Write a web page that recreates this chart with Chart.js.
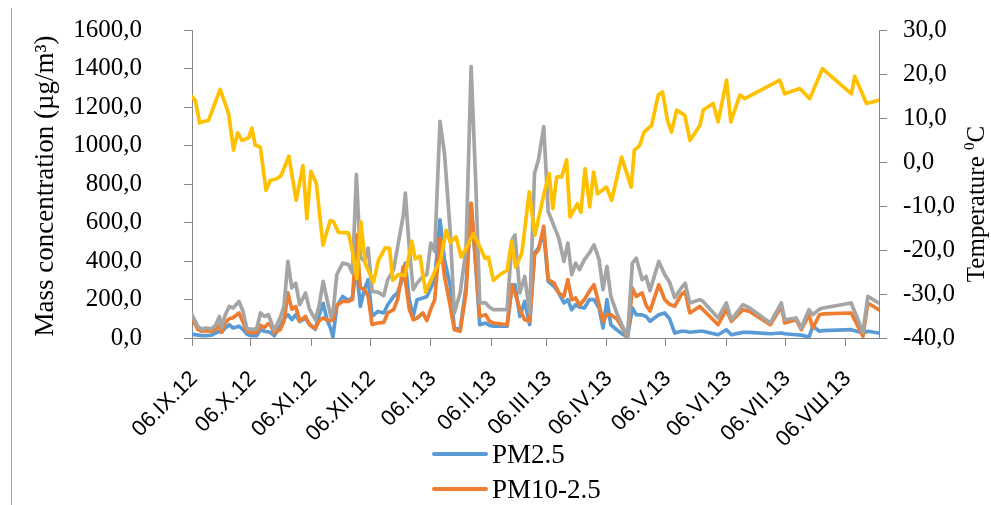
<!DOCTYPE html>
<html>
<head>
<meta charset="utf-8">
<script src="https://cdn.jsdelivr.net/npm/chart.js@4.4.1/dist/chart.umd.min.js"></script>
<style>
  html, body { margin: 0; padding: 0; background: #fff; }
  #wrap { position: relative; width: 991px; height: 505px; overflow: hidden; }
  #frame { position: absolute; left: 11px; top: 8px; width: 0; height: 497px; border-left: 1px solid #a6a6a6; }
  canvas { position: absolute; left: 0; top: 0; }
</style>
</head>
<body>
<div id="wrap">
  <div id="frame"></div>
  <canvas id="chart" width="991" height="505"></canvas>
</div>
<script>
// Days counted from 06.IX.2012
const tickDays = [0, 30, 61, 91, 122, 153, 181, 212, 242, 273, 303, 334];
const tickLabels = ['06.IX.12', '06.X.12', '06.XI.12', '06.XII.12', '06.I.13', '06.II.13',
  '06.III.13', '06.IV.13', '06.V.13', '06.VI.13', '06.VII.13', '06.VШ.13'];

// Particulate matter sampling days and mass concentrations, µg/m³
const pmDays = [0, 3, 5, 7, 10, 12, 14, 15, 17, 19, 21, 24, 26, 28, 30, 33, 35, 37, 39, 40,
  42, 45, 47, 49, 51, 53, 55, 58, 60, 63, 65, 67, 69, 71, 72, 74, 77, 80, 82, 84,
  86, 88, 90, 92, 95, 98, 100, 103, 105, 108, 109, 111, 113, 115, 118, 120, 122, 124, 126.7, 129,
  132, 134, 137, 140, 142.6, 145, 147, 150, 152, 154, 161, 163.5, 165, 167.5, 170, 172.5, 175, 177, 179.7, 182,
  185, 187.4, 190, 192, 194, 196, 198, 200.5, 203, 205.4, 208, 210, 212, 214, 217, 220, 222.5, 225, 227, 230,
  232, 234, 238.5, 241.5, 244, 246.6, 250, 252, 254.3, 259.4, 261.1, 268.8, 273, 275.6, 281.5, 284.9, 295.5, 301.1, 302.8, 308.7,
  311.3, 315.2, 317.2, 320.6, 322.4, 336.8, 342.8, 345.3, 350.9];

const pm25 = [20, 15, 12, 12, 15, 25, 35, 30, 52, 69, 52, 61, 45, 20, 12, 12, 43, 35, 32, 29,
  12, 60, 100, 121, 95, 121, 85, 104, 70, 45, 120, 180, 95, 45, 5, 164, 216, 195, 210, 372,
  164, 250, 303, 112, 138, 130, 173, 216, 234, 320, 389, 199, 112, 199, 208, 216, 260, 303, 614, 407,
  268, 52, 43, 268, 700, 372, 69, 78, 65, 61, 61, 268, 277, 112, 190, 69, 441, 467, 545, 294,
  268, 234, 182, 199, 147, 173, 160, 156, 199, 199, 156, 52, 199, 69, 43, 20, 5, 156, 121, 120,
  112, 87, 121, 130, 100, 26, 35, 35, 30, 35, 35, 17, 43, 17, 29, 29, 22, 26, 22, 17,
  15, 5, 61, 35, 38, 43, 26, 35, 26];

const pm10_25 = [104, 45, 35, 38, 35, 45, 65, 30, 80, 100, 105, 130, 85, 35, 28, 28, 65, 55, 75, 70,
  26, 43, 87, 234, 150, 164, 90, 112, 70, 50, 90, 104, 95, 90, 95, 170, 190, 190, 200, 536,
  260, 255, 216, 70, 78, 81, 130, 147, 199, 372, 300, 150, 95, 104, 130, 90, 150, 199, 519, 320,
  164, 43, 35, 234, 700, 389, 112, 121, 87, 78, 69, 277, 234, 150, 95, 87, 432, 458, 580, 303,
  285, 234, 216, 303, 199, 208, 170, 200, 242, 277, 173, 87, 121, 121, 100, 50, 5, 260, 216, 234,
  170, 140, 277, 200, 175, 165, 225, 242, 130, 164, 147, 69, 147, 87, 147, 138, 69, 164, 78, 95,
  43, 121, 52, 121, 125, 130, 9, 182, 147];

const pm10 = [121, 60, 45, 52, 48, 65, 112, 55, 120, 164, 156, 190, 140, 50, 45, 47, 130, 112, 121, 95,
  40, 104, 164, 398, 260, 285, 173, 234, 150, 95, 170, 294, 199, 110, 130, 330, 389, 381, 337, 850,
  420, 400, 467, 242, 238, 220, 303, 355, 470, 640, 753, 470, 251, 285, 320, 330, 493, 450, 1125, 960,
  545, 130, 234, 458, 1410, 800, 182, 182, 160, 147, 147, 510, 536, 234, 320, 130, 856, 925, 1098, 657,
  580, 519, 398, 493, 329, 389, 355, 407, 441, 484, 407, 251, 372, 216, 130, 60, 9, 389, 415, 303,
  320, 245, 398, 330, 290, 210, 260, 285, 182, 199, 190, 104, 182, 95, 173, 156, 78, 182, 95, 104,
  52, 147, 121, 150, 156, 182, 30, 216, 182];

// Air temperature, °C
const tempDays = [0, 1.7, 3.9, 8.5, 11, 14.4, 18.7, 21.2, 23.3, 25.5, 28.9, 30.6, 32.3, 34.9, 37.8, 40, 43.4, 45.6, 49.5, 53.2,
  56.7, 58.7, 60.7, 63.5, 66.9, 70.6, 72.3, 74.8, 79.9, 82.2, 84.2, 86.3, 88.5, 92.7, 95.3, 98.7, 100.9, 102.6, 105.3, 108.9,
  112.3, 114, 116.5, 119.4, 122.2, 125, 127.1, 129.8, 131.9, 134.9, 137.5, 140, 143.7, 146.7, 149.7, 151.4, 154, 157.4, 161, 163.3,
  165.3, 168.5, 172.3, 175.2, 179.5, 182.4, 184.4, 186.3, 188.9, 191.4, 193.1, 196.9, 198.7, 200.8, 203.2, 205.2, 207.2, 211.8, 214.4, 219.5,
  224.4, 226, 228.8, 230.9, 234.8, 238.2, 240.4, 242.9, 245, 247.6, 251.8, 254.4, 259.5, 261.2, 266.3, 268.8, 273.1, 275.3, 279.9, 282.4,
  300.3, 302.8, 310.5, 315.6, 322.1, 336.9, 338.6, 344.6, 350.9];

const temperature = [14.8, 14.0, 8.9, 9.5, 12.5, 16.5, 11.0, 2.7, 6.6, 4.9, 5.5, 7.7, 3.8, 3.4, -6.4, -4.2, -3.8, -3.0, 1.3, -8.7,
  -0.8, -12.9, -2.1, -4.8, -18.9, -13.3, -13.6, -16.0, -16.1, -20.8, -26.5, -13.6, -23.1, -27.3, -22.3, -19.5, -19.6, -26.9, -25.6, -25.8,
  -18.0, -22.0, -21.4, -29.6, -26.7, -23.9, -22.3, -15.5, -18.3, -17.0, -21.6, -19.7, -16.3, -18.9, -21.9, -21.6, -26.9, -25.6, -24.6, -18.0,
  -23.9, -20.8, -6.8, -16.6, -7.9, -2.6, -10.6, -3.4, -3.4, 0.5, -12.5, -9.5, -11.4, -1.5, -10.2, -2.3, -7.2, -5.7, -8.7, 1.1,
  -5.7, 2.7, 3.8, 6.8, 8.3, 15.2, 15.9, 9.5, 6.8, 11.8, 10.6, 4.9, 8.3, 11.8, 13.3, 9.1, 18.6, 9.1, 15.2, 14.4,
  18.6, 15.5, 16.7, 14.4, 21.2, 15.5, 19.5, 13.3, 14.0];

const massTitle = 'Mass concentration (µg/m³)';
const tempTitleMain = 'Temperature ';
const tempTitleSup = '0';
const tempTitleUnit = 'C';
const legendShown = ['PM2.5', 'PM10-2.5'];

const toPoints = (xs, ys) => xs.map((x, i) => ({ x: x, y: ys[i] }));
const comma = v => Number(v).toFixed(1).replace('.', ',');

const axisGrey = '#868686';
const serif = 'Liberation Serif';

const lineStyle = { borderWidth: 3.7, pointRadius: 0, tension: 0, borderJoinStyle: 'round', borderCapStyle: 'round', fill: false };

// fixed axis sizes so the plot area sits at a set place on the canvas
const fixWidth = w => s => { s.width = w; s.paddingTop = 0; s.paddingBottom = 0; };
const fixHeight = h => s => { s.height = h; s.paddingLeft = 0; s.paddingRight = 0; };

// Axis titles and the two-row legend under the axis labels
const decorations = {
  id: 'decorations',
  afterDraw(chart) {
    const ctx = chart.ctx;
    ctx.save();
    ctx.fillStyle = '#000';
    ctx.textAlign = 'center';
    ctx.textBaseline = 'middle';
    ctx.font = '27px "' + serif + '"';
    ctx.translate(46, 186);
    ctx.rotate(-Math.PI / 2);
    ctx.fillText(massTitle, 0, 0);
    ctx.restore();

    // right-hand title, with a raised small 0 before the unit
    ctx.save();
    ctx.fillStyle = '#000';
    ctx.textAlign = 'left';
    ctx.textBaseline = 'alphabetic';
    const mainFont = '25px "' + serif + '"';
    const supFont = '15px "' + serif + '"';
    ctx.font = mainFont;
    const wMain = ctx.measureText(tempTitleMain).width;
    const wUnit = ctx.measureText(tempTitleUnit).width;
    ctx.font = supFont;
    const wSup = ctx.measureText(tempTitleSup).width;
    const total = wMain + wSup + wUnit;
    ctx.translate(984, 204);
    ctx.rotate(-Math.PI / 2);
    let x = -total / 2;
    ctx.font = mainFont;
    ctx.fillText(tempTitleMain, x, 0);
    x += wMain;
    ctx.font = supFont;
    ctx.fillText(tempTitleSup, x, -10);
    x += wSup;
    ctx.font = mainFont;
    ctx.fillText(tempTitleUnit, x, 0);
    ctx.restore();

    ctx.save();
    ctx.font = '27px "' + serif + '"';
    ctx.textAlign = 'left';
    ctx.textBaseline = 'middle';
    legendShown.forEach((name, k) => {
      const ds = chart.data.datasets.find(d => d.label === name);
      const y = 454 + k * 35;
      ctx.strokeStyle = ds.borderColor;
      ctx.lineWidth = 4;
      ctx.lineCap = 'round';
      ctx.beginPath();
      ctx.moveTo(434, y);
      ctx.lineTo(486, y);
      ctx.stroke();
      ctx.fillStyle = '#000';
      ctx.fillText(ds.label, 492, y + 2);
    });
    ctx.restore();
  }
};

new Chart(document.getElementById('chart'), {
  type: 'line',
  data: {
    datasets: [
      Object.assign({ label: 'Temperature', data: toPoints(tempDays, temperature), yAxisID: 'y1', borderColor: '#FFC000', backgroundColor: '#FFC000', order: 0 }, lineStyle),
      Object.assign({ label: 'PM10', data: toPoints(pmDays, pm10), yAxisID: 'y', borderColor: '#A5A5A5', backgroundColor: '#A5A5A5', order: 1 }, lineStyle),
      Object.assign({ label: 'PM10-2.5', data: toPoints(pmDays, pm10_25), yAxisID: 'y', borderColor: '#ED7D31', backgroundColor: '#ED7D31', order: 2 }, lineStyle),
      Object.assign({ label: 'PM2.5', data: toPoints(pmDays, pm25), yAxisID: 'y', borderColor: '#5B9BD5', backgroundColor: '#5B9BD5', order: 3 }, lineStyle)
    ]
  },
  options: {
    responsive: false,
    animation: false,
    layout: { padding: { top: 30, left: 0, right: 0, bottom: 0 } },
    plugins: { legend: { display: false }, tooltip: { enabled: false } },
    scales: {
      x: {
        type: 'linear',
        min: 0,
        max: 351,
        afterBuildTicks: s => { s.ticks = tickDays.map(v => ({ value: v })); },
        afterFit: fixHeight(167),
        ticks: {
          autoSkip: false,
          minRotation: 45,
          maxRotation: 45,
          padding: 20,
          labelOffset: 2,
          color: '#000',
          font: { family: 'Liberation Sans', size: 22 },
          callback: (v, i) => tickLabels[i]
        },
        grid: { drawOnChartArea: false, drawTicks: true, tickLength: 8, color: axisGrey, lineWidth: 1 },
        border: { display: true, color: axisGrey, width: 1 }
      },
      y: {
        position: 'left',
        min: 0,
        max: 1600,
        afterFit: fixWidth(192),
        ticks: { stepSize: 200, padding: 42, color: '#000', font: { family: serif, size: 25 }, callback: v => comma(v) },
        grid: { drawOnChartArea: false, drawTicks: true, tickLength: 8, color: axisGrey, lineWidth: 1 },
        border: { display: true, color: axisGrey, width: 1 }
      },
      y1: {
        position: 'right',
        min: -40,
        max: 30,
        afterFit: fixWidth(112),
        ticks: { stepSize: 10, padding: 16, color: '#000', font: { family: serif, size: 25 }, callback: v => comma(v) },
        grid: { drawOnChartArea: false, drawTicks: true, tickLength: 8, color: axisGrey, lineWidth: 1 },
        border: { display: true, color: axisGrey, width: 1 }
      }
    }
  },
  plugins: [decorations]
});
</script>
</body>
</html>
